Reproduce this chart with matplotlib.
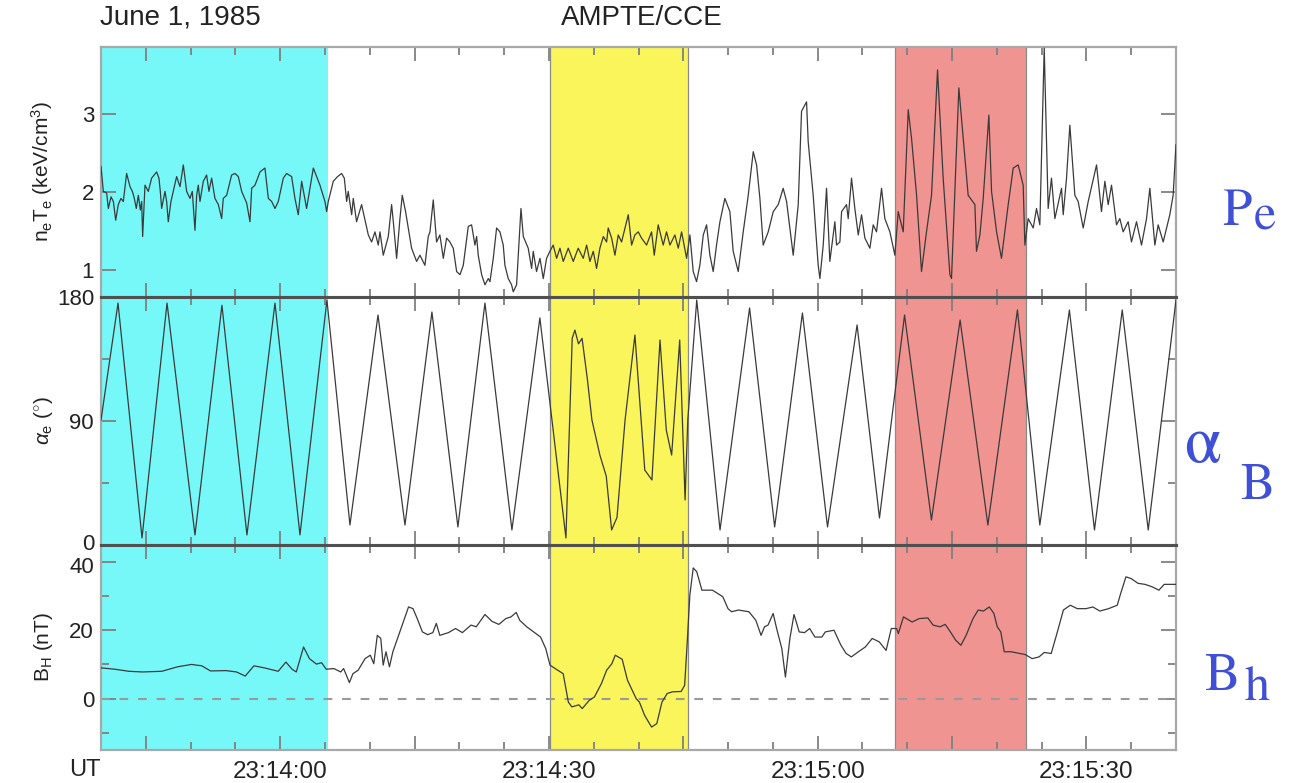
import numpy as np
import matplotlib.pyplot as plt
import matplotlib.transforms as mtransforms
from matplotlib.ticker import MultipleLocator, FuncFormatter, FixedLocator

plt.rcParams['font.family'] = ['Liberation Sans', 'DejaVu Sans']
plt.rcParams['mathtext.fontset'] = 'custom'
plt.rcParams['mathtext.rm'] = 'Liberation Sans'
plt.rcParams['mathtext.it'] = 'Liberation Sans:italic'

# time is in seconds after 23:13:40 UT
pe_t = [0.0, 0.26, 0.63, 0.82, 1.12, 1.38, 1.64, 1.93, 2.23, 2.49,
        2.86, 3.24, 3.50, 3.72, 3.94, 4.17, 4.39, 4.54, 4.65, 4.91,
        5.28, 5.65, 6.21, 6.47, 6.62, 6.77, 7.14, 7.33, 7.51, 7.81,
        8.07, 8.44, 8.82, 9.19, 9.56, 9.93, 10.19, 10.49, 10.68, 10.86,
        11.05, 11.42, 11.79, 12.05, 12.35, 12.72, 13.10, 13.47, 13.65, 14.03,
        14.58, 14.96, 15.33, 15.70, 16.26, 16.63, 16.82, 17.19, 17.75, 18.30,
        18.68, 19.05, 19.42, 19.79, 20.35, 20.72, 21.28, 21.65, 22.02, 22.40,
        22.95, 23.70, 24.07, 24.44, 25.00, 25.19,
        25.37, 25.93, 26.41, 26.86, 27.16, 27.42, 27.60, 27.98, 28.16, 28.53,
        29.09, 29.84, 30.21, 30.58, 30.95, 31.14, 31.51, 32.07, 32.44, 32.63,
        33.00, 33.37, 33.63, 34.00, 34.30, 34.67, 35.23, 35.60, 36.16, 36.53,
        36.72, 37.09, 37.46, 37.83, 38.21, 38.58, 38.95, 39.32, 39.70, 40.07,
        40.44,
        41.00, 41.37, 41.74, 41.93, 42.11, 42.49, 42.86, 43.23, 43.42, 43.79,
        44.16, 44.53, 44.90, 45.09, 45.46, 45.83, 46.02, 46.39, 46.88, 47.14,
        47.69, 48.07, 48.25, 48.62, 49.00, 49.37, 49.74, 50.11,
        50.48, 50.86, 51.23, 51.60, 52.16, 52.72, 53.27, 53.83, 54.21, 54.58,
        54.95, 55.32, 55.69, 56.07, 56.44, 56.62, 57.00, 57.37, 57.74, 58.11,
        58.86, 59.23, 59.60, 59.97, 60.34, 60.90, 61.46, 61.76, 62.20, 62.76,
        63.13, 63.51, 64.06, 64.44, 64.81, 65.37,
        65.74, 66.11, 66.48, 66.85, 67.23, 67.60, 67.97, 68.34, 68.71, 69.09,
        69.64, 70.20, 70.57, 71.13, 71.69, 72.25, 72.81, 73.18, 73.55, 73.92,
        74.48, 75.04, 75.60, 76.15, 76.53, 77.27, 77.83, 78.20, 78.76, 78.94,
        79.50, 80.06, 80.25, 80.62,
        80.99, 81.36, 81.92, 82.11, 82.48, 82.67, 83.22, 83.41, 83.60, 83.78,
        84.15, 84.53, 84.90, 85.27, 85.83, 86.20, 86.57, 87.13, 87.50, 88.06,
        88.62,
        88.99, 89.55, 90.11, 90.48, 91.04, 91.59, 92.15, 92.71,
        93.38, 94.01, 94.76, 94.94, 95.76, 96.80, 97.55, 97.73, 98.11, 98.48,
        99.11, 99.41, 99.97, 100.52, 101.27, 101.83, 102.38, 102.94, 103.13,
        103.50, 104.06, 104.43, 104.80, 105.29, 105.73, 106.10, 106.48, 107.22, 107.41,
        107.78, 108.15, 108.71, 109.08, 109.64, 110.20, 111.13, 111.68, 112.06, 112.43,
        112.80, 113.36, 113.73, 114.10, 114.66, 115.03, 115.59, 116.15, 116.71, 117.08,
        117.64, 118.01, 118.57, 119.31, 119.68, 120.0]
pe_v = [2.33, 2.01, 1.99, 1.79, 1.94, 1.88, 1.64, 1.84, 1.92, 1.88,
        2.24, 2.07, 2.01, 1.92, 1.79, 1.96, 1.77, 1.88, 1.43, 2.09,
        2.01, 2.18, 2.26, 2.18, 2.01, 1.79, 2.01, 1.88, 1.62, 1.88,
        2.01, 2.20, 2.07, 2.35, 2.01, 1.92, 2.01, 1.51, 1.96, 2.09,
        1.88, 2.14, 2.22, 2.01, 2.18, 1.92, 1.84, 1.66, 1.92, 1.96,
        2.22, 2.24, 2.20, 2.01, 1.86, 1.62, 2.05, 2.09, 2.26, 2.31,
        1.92, 1.88, 1.79, 1.88, 2.18, 2.24, 2.20, 1.92, 1.71, 2.14,
        1.79, 2.31, 2.20, 2.09, 1.88, 1.75,
        1.88, 2.14, 2.20, 2.24, 2.18, 1.88, 2.01, 1.71, 1.92, 1.62,
        1.84, 1.45, 1.36, 1.49, 1.32, 1.49, 1.19, 1.43, 1.84, 1.62,
        1.15, 1.66, 1.96, 1.75, 1.54, 1.28, 1.11, 1.19, 1.06, 1.43,
        1.49, 1.90, 1.36, 1.45, 1.15, 1.41, 1.36, 1.28, 0.98, 0.94,
        1.06,
        1.56, 1.58, 1.32, 1.43, 1.19, 0.94, 0.81, 0.89, 0.85, 1.15,
        1.54, 1.49, 1.32, 1.06, 0.89, 0.81, 0.72, 0.81, 1.79, 1.43,
        1.28, 1.02, 1.24, 0.98, 1.15, 0.89, 1.15, 1.24,
        1.32, 1.15, 1.28, 1.11, 1.28, 1.11, 1.28, 1.15, 1.32, 1.11,
        1.24, 1.02, 1.28, 1.43, 1.36, 1.54, 1.41, 1.19, 1.45, 1.36,
        1.71, 1.32, 1.45, 1.49, 1.41, 1.32, 1.49, 1.19, 1.58, 1.32,
        1.49, 1.32, 1.45, 1.28, 1.49, 1.15,
        1.45, 0.98, 0.85, 1.06, 1.45, 1.58, 1.19, 0.98, 1.32, 1.62,
        1.92, 1.75, 1.24, 0.98, 1.49, 1.96, 2.52, 2.35, 1.92, 1.32,
        1.49, 1.75, 1.84, 2.05, 1.88, 1.19, 1.84, 3.04, 3.16, 2.65,
        1.96, 1.06, 0.89, 1.32,
        2.05, 1.11, 1.62, 1.32, 1.36, 1.75, 1.84, 1.66, 1.92, 2.18,
        1.79, 1.45, 1.71, 1.41, 1.28, 1.58, 1.49, 2.05, 1.66, 1.49,
        1.19,
        1.75, 1.49, 3.06, 2.69, 1.96, 0.98, 1.49, 1.96,
        3.57, 2.18, 0.94, 0.89, 3.34, 1.96, 1.84, 1.24, 1.45, 1.92,
        2.99, 2.01, 1.49, 1.15, 1.84, 2.31, 2.35, 2.09, 1.32,
        1.66, 1.54, 1.79, 1.58, 3.85, 1.79, 2.18, 1.66, 2.05, 1.71,
        2.18, 2.86, 1.96, 1.88, 1.54, 1.88, 2.35, 1.75, 2.14, 1.84,
        2.09, 1.58, 1.66, 1.49, 1.62, 1.36, 1.62, 1.32, 1.66, 2.05,
        1.32, 1.58, 1.36, 1.71, 1.96, 2.61]

alpha_t = [0.0, 1.9, 4.58, 7.37, 10.49, 13.5, 16.29, 19.42, 22.21, 25.22,
           27.79, 30.92, 33.93, 36.94, 39.84, 42.86, 45.87, 48.99, 51.9, 52.6,
           52.9, 53.3, 53.7, 54.3, 54.8, 55.7, 56.4, 57.0, 57.6, 58.5,
           59.6, 60.7, 61.5, 62.4, 63.1, 63.7, 64.6, 65.2, 65.5, 66.5,
           69.1, 72.4, 75.2, 78.3, 81.1, 84.4, 86.9, 89.7, 92.7, 95.9,
           99.0, 102.3, 104.8, 108.1, 110.9, 114.0, 116.9, 120.0]
alpha_v = [90.7, 175.6, 5.1, 175.6, 7.3, 174.0, 7.3, 175.6, 7.3, 177.8,
           14.5, 166.9, 14.5, 169.1, 13.1, 175.6, 10.9, 164.8, 5.1, 150.0,
           156.0, 146.0, 150.0, 120.0, 90.7, 65.0, 50.0, 10.9, 20.0, 90.7,
           152.4, 54.4, 47.2, 148.8, 83.5, 65.3, 148.8, 32.7, 90.7, 177.8,
           10.9, 172.0, 13.1, 168.4, 13.1, 159.7, 19.6, 166.9, 18.1, 163.3,
           14.5, 170.6, 14.5, 170.6, 10.9, 170.6, 10.9, 177.8]

bh_t = [0.0, 1.55, 3.10, 4.65, 6.79, 8.53, 10.09, 11.25, 12.22, 13.96,
        15.13, 16.10, 17.07, 18.23, 19.78, 20.64, 21.33, 21.80, 22.61, 23.27,
        24.05, 24.63, 25.14, 25.99, 26.76, 27.08, 27.73, 28.12, 28.70, 29.48,
        30.06, 30.45, 30.84, 31.23, 31.50, 31.81, 32.20, 32.58, 33.36, 34.33,
        34.83, 35.30, 35.88, 36.46, 37.04, 37.43, 37.82, 38.79, 39.57, 40.34,
        41.31, 41.89, 42.86, 43.64, 44.41, 45.19, 45.77, 46.35, 46.74, 47.52,
        48.29, 49.07, 49.65, 50.12, 50.81, 51.59, 52.17, 52.56, 53.34, 53.72,
        54.50, 55.08, 55.86, 56.44, 57.02, 57.41, 58.18, 58.77, 59.74,
        60.1, 60.69, 61.46, 62.04, 62.62, 63.2, 63.79, 64.76, 65.15, 65.42,
        65.73, 66.11, 66.5, 67.08, 68.25, 69.41, 69.99, 70.38, 71.16, 72.32,
        73.1, 73.68, 74.07, 74.46, 75.03, 75.42, 76.0, 76.4, 76.9, 77.36,
        77.94, 78.53, 79.11, 79.69, 80.47, 80.85, 81.82, 82.6, 83.18, 83.76,
        84.54, 85.32, 86.09, 86.87, 87.64, 88.22, 88.81, 89.0, 89.58, 90.55,
        91.33, 92.3, 92.88, 93.66, 94.24, 94.82, 95.4, 95.99, 96.57, 97.34,
        97.92, 98.5, 99.16, 99.67, 100.05, 100.44, 100.83, 101.61, 102.58, 103.16,
        103.94, 104.71, 105.29, 106.07, 106.65, 107.43, 108.2, 108.98, 109.95, 110.72,
        111.5, 112.47, 113.44, 113.82, 114.41, 114.99, 115.76, 116.54, 117.32, 118.09,
        118.68, 120.0]
bh_v = [9.0, 8.6, 8.0, 7.8, 8.0, 9.3, 10.0, 9.6, 8.1, 8.2,
        7.8, 6.6, 9.6, 9.0, 8.0, 10.7, 8.6, 7.8, 15.1, 11.7,
        10.1, 10.5, 8.6, 8.8, 7.8, 8.8, 4.7, 7.3, 8.3, 11.7,
        12.7, 10.2, 18.5, 17.6, 9.8, 13.7, 9.3, 13.7, 19.5, 26.8,
        26.3, 23.4, 19.5, 18.7, 19.3, 22.0, 18.5, 19.3, 20.5, 19.3,
        21.5, 21.0, 24.6, 22.6, 21.7, 23.4, 23.9, 25.2, 22.9, 21.0,
        19.5, 18.0, 14.6, 9.8, 8.6, 7.3, -1.0, -2.4, -1.8, -2.9,
        -0.5, 0.5, 4.4, 8.3, 10.2, 12.7, 11.5, 5.4, 0.0,
        -1.0, -4.9, -8.3, -7.3, -1.0, 1.5, 2.0, 2.1, 3.9, 15.6,
        30.2, 38.2, 37.1, 31.7, 31.7, 29.8, 26.3, 25.4, 25.9, 25.4,
        22.9, 18.5, 21.0, 21.5, 24.9, 20.5, 14.6, 6.3, 17.6, 24.6,
        19.5, 19.3, 20.5, 18.0, 18.0, 19.5, 20.0, 15.6, 13.2, 12.2,
        13.7, 15.1, 17.6, 16.6, 14.1, 20.5, 20.5, 19.0, 23.9, 22.4,
        23.4, 23.6, 21.5, 21.0, 21.7, 19.5, 17.1, 15.6, 18.5, 23.4,
        25.9, 25.6, 26.8, 24.9, 21.0, 19.5, 13.7, 13.7, 13.2, 12.9,
        11.7, 12.2, 13.5, 13.2, 18.5, 25.9, 27.3, 26.3, 26.3, 26.8,
        25.6, 26.3, 27.3, 30.7, 35.6, 35.1, 33.7, 33.4, 32.7, 31.7,
        33.4, 33.4]

# highlighted intervals (s after 23:13:40)
span_start = [0.0, 50.1, 88.6]
span_end = [25.35, 65.5, 103.2]
span_colors = ['#76f8f9', '#faf55b', '#f09491']

W, H = 1300, 783
fig = plt.figure(figsize=(W / 100, H / 100), dpi=100)


def box(top, bottom):
    return [101 / W, 1 - bottom / H, 1075 / W, (bottom - top) / H]


ax1 = fig.add_axes(box(47, 297))
ax2 = fig.add_axes(box(297, 545))
ax3 = fig.add_axes(box(545, 750))
axes = [ax1, ax2, ax3]

line_col = '#3a3a3a'
ax1.plot(pe_t, pe_v, color=line_col, lw=0.9, zorder=3)
ax2.plot(alpha_t, alpha_v, color=line_col, lw=0.9, zorder=3)
ax3.plot(bh_t, bh_v, color=line_col, lw=0.9, zorder=3)
ax3.axhline(0, color='#9a9a9a', lw=1.5, ls=(0, (4.2, 4.7)), zorder=2)

for ax in axes:
    for i, (a, b, c) in enumerate(zip(span_start, span_end, span_colors)):
        ax.axvspan(a, b, color=c, lw=0, zorder=0)
        if i > 0:
            ax.axvline(a, color='#8a8a8a', lw=0.9, zorder=1)
            ax.axvline(b, color='#8a8a8a', lw=0.9, zorder=1)
    ax.set_xlim(0, 120)
    ax.xaxis.set_major_locator(MultipleLocator(15, offset=5))
    ax.xaxis.set_minor_locator(MultipleLocator(5))
    ax.tick_params(which='both', direction='in', top=True, right=True,
                   color='#808080', width=1.3, labelcolor='#222222',
                   labelsize=16)
    ax.tick_params(which='major', axis='x', length=10)
    ax.tick_params(which='minor', axis='x', length=6)
    ax.tick_params(which='major', axis='y', length=11, pad=5)
    ax.tick_params(which='minor', axis='y', length=6)
    for s in ax.spines.values():
        s.set_color('#a8a8a8')
        s.set_linewidth(1.6)

for sp in [ax1.spines['bottom'], ax2.spines['top'], ax2.spines['bottom'], ax3.spines['top']]:
    sp.set_color('#505050')
    sp.set_linewidth(2.2)

ax1.set_ylim(0.653, 3.865)
ax1.yaxis.set_major_locator(FixedLocator([1, 2, 3]))
ax2.set_ylim(0, 180)
ax2.yaxis.set_major_locator(FixedLocator([0, 90, 180]))
ax2.yaxis.set_minor_locator(FixedLocator([45, 135]))
ax3.set_ylim(-15.0, 44.9)
ax3.yaxis.set_major_locator(FixedLocator([0, 20, 40]))
ax3.yaxis.set_minor_locator(FixedLocator([-10, 10, 30]))

ax1.tick_params(labelbottom=False)
ax2.tick_params(labelbottom=False)


def ut_label(t, pos):
    t = int(round(t))
    if (t - 20) % 30 != 0:
        return ''
    s = 23 * 3600 + 13 * 60 + 40 + t
    return '%02d:%02d:%02d' % (s // 3600, (s // 60) % 60, s % 60)


ax3.xaxis.set_major_formatter(FuncFormatter(ut_label))
ax3.tick_params(axis='x', pad=8, labelsize=17.5)

# nudge the stacked "0" / "40" labels apart a little
fig.canvas.draw()
up = mtransforms.ScaledTranslation(0, 3 / 100, fig.dpi_scale_trans)
down = mtransforms.ScaledTranslation(0, -3 / 100, fig.dpi_scale_trans)
for lab in ax2.get_yticklabels():
    if lab.get_text() == '0':
        lab.set_transform(lab.get_transform() + up)
for lab in ax3.get_yticklabels():
    if lab.get_text() == '40':
        lab.set_transform(lab.get_transform() + down)

ax1.set_ylabel(r'n$_{\rm e}$T$_{\rm e}$ (keV/cm$^3$)', fontsize=15, color='#222222')
ax2.set_ylabel(r'$\alpha_{\rm e}$ ($^{\circ}$)', fontsize=15, color='#222222')
ax3.set_ylabel(r'B$_{\rm H}$ (nT)', fontsize=15, color='#222222')
for ax in axes:
    ax.yaxis.set_label_coords(-0.043, 0.5)

fig.text(100 / W, 1 - 18 / H, 'June 1, 1985', fontsize=20, color='#222222', va='center', ha='left')
fig.text(642 / W, 1 - 18 / H, 'AMPTE/CCE', fontsize=20, color='#222222', va='center', ha='center')
fig.text(85 / W, 1 - 770 / H, 'UT', fontsize=17, color='#222222', va='center', ha='center')

blue = '#3f4fd6'
serif = ['STIXGeneral', 'Liberation Serif']
fig.text(1222 / W, 1 - 225 / H, 'P', fontsize=38, family=serif, color=blue, va='baseline')
fig.text(1254 / W, 1 - 230 / H, 'e', fontsize=36, family=serif, color=blue, va='baseline')
fig.text(1184 / W, 1 - 462 / H, '\u03b1', fontsize=48, family=serif, color=blue, va='baseline')
fig.text(1240 / W, 1 - 499 / H, 'B', fontsize=37, family=serif, color=blue, va='baseline')
fig.text(1204 / W, 1 - 690 / H, 'B', fontsize=38, family=serif, color=blue, va='baseline')
fig.text(1245 / W, 1 - 700 / H, 'h', fontsize=36, family=serif, color=blue, va='baseline')

fig.savefig('out.png', dpi=100)
